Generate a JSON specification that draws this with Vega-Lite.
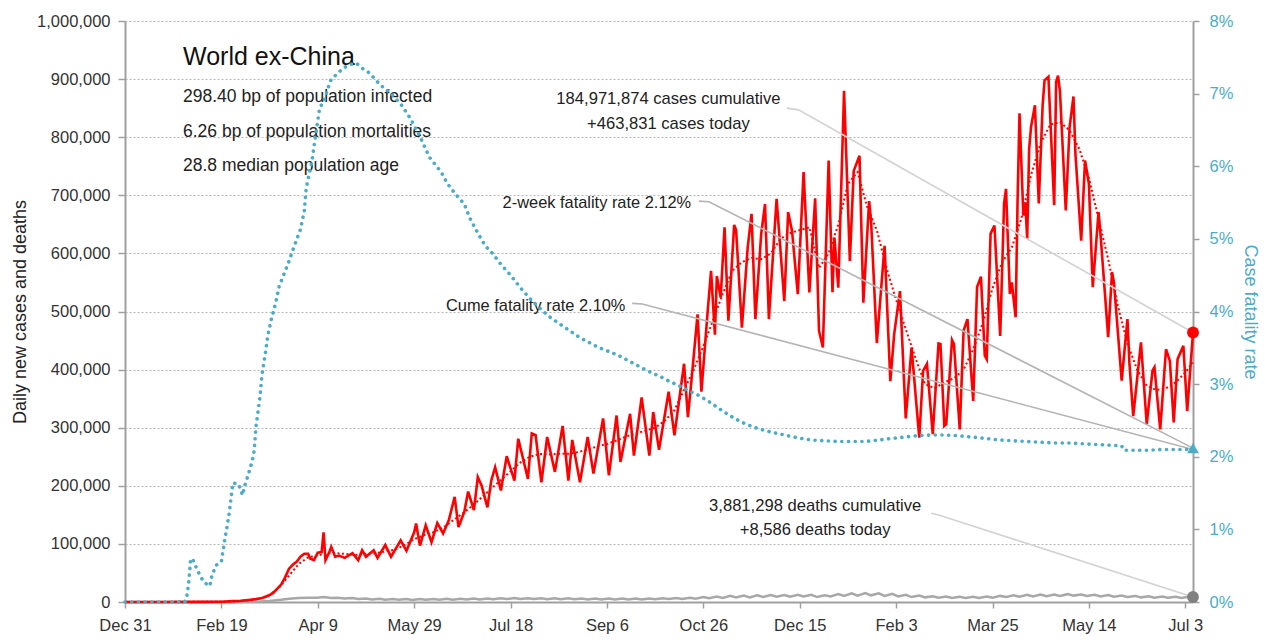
{
"$schema": "https://vega.github.io/schema/vega-lite/v6.json",
"width": 1068,
"height": 581,
"autosize": {"type": "none"},
"padding": {"left": 125, "top": 21, "right": 72, "bottom": 38},
"background": "white",
"config": {
  "view": {"stroke": null},
  "font": "Liberation Sans, Arial, sans-serif",
  "axis": {"labelFont": "Liberation Sans, Arial, sans-serif", "titleFont": "Liberation Sans, Arial, sans-serif", "labelFontSize": 16.5, "titleFontSize": 18, "titleFontWeight": "normal", "domainColor": "#a0a0a0", "domainWidth": 2, "tickColor": "#a0a0a0", "tickWidth": 1.5, "labelColor": "#333333", "titleColor": "#222222", "labelFlush": false, "labelOverlap": false}
},
"datasets": {
  "cases": [{"d":0,"v":0},{"d":20,"v":0},{"d":40,"v":200},{"d":50,"v":500},{"d":56,"v":1500},{"d":60,"v":2000},{"d":64,"v":3500},{"d":68,"v":5000},{"d":71,"v":7000},{"d":73,"v":9000},{"d":75,"v":12000},{"d":77,"v":16000},{"d":79,"v":23000},{"d":81,"v":30000},{"d":83,"v":42000},{"d":85,"v":57000},{"d":87,"v":64000},{"d":89,"v":69000},{"d":91,"v":78000},{"d":93,"v":83000},{"d":95,"v":83000},{"d":96,"v":75000},{"d":98,"v":72000},{"d":100,"v":85000},{"d":102,"v":86000},{"d":103,"v":120000},{"d":104,"v":72000},{"d":106,"v":86000},{"d":107,"v":95000},{"d":109,"v":78000},{"d":111,"v":80000},{"d":114,"v":76000},{"d":118,"v":84000},{"d":121,"v":72000},{"d":123,"v":89000},{"d":125,"v":78000},{"d":129,"v":89000},{"d":131,"v":76000},{"d":135,"v":98000},{"d":138,"v":78000},{"d":143,"v":106000},{"d":146,"v":88000},{"d":150,"v":120000},{"d":151,"v":135000},{"d":153,"v":97000},{"d":156,"v":132000},{"d":159,"v":103000},{"d":162,"v":136000},{"d":165,"v":118000},{"d":168,"v":141000},{"d":171,"v":181000},{"d":173,"v":129000},{"d":176,"v":155000},{"d":178,"v":190000},{"d":181,"v":158000},{"d":183,"v":215000},{"d":185,"v":200000},{"d":188,"v":163000},{"d":190,"v":209000},{"d":192,"v":232000},{"d":195,"v":192000},{"d":198,"v":251000},{"d":202,"v":209000},{"d":204,"v":281000},{"d":209,"v":212000},{"d":211,"v":290000},{"d":213,"v":287000},{"d":216,"v":206000},{"d":219,"v":284000},{"d":223,"v":224000},{"d":227,"v":303000},{"d":230,"v":209000},{"d":232,"v":279000},{"d":236,"v":206000},{"d":240,"v":284000},{"d":243,"v":221000},{"d":248,"v":316000},{"d":251,"v":218000},{"d":255,"v":321000},{"d":257,"v":241000},{"d":262,"v":324000},{"d":264,"v":252000},{"d":268,"v":352000},{"d":272,"v":252000},{"d":274,"v":327000},{"d":277,"v":262000},{"d":282,"v":362000},{"d":285,"v":287000},{"d":290,"v":410000},{"d":292,"v":318000},{"d":294,"v":387000},{"d":297,"v":495000},{"d":299,"v":362000},{"d":302,"v":490000},{"d":304,"v":570000},{"d":306,"v":460000},{"d":307,"v":561000},{"d":309,"v":524000},{"d":311,"v":645000},{"d":313,"v":484000},{"d":316,"v":649000},{"d":317,"v":640000},{"d":320,"v":472000},{"d":323,"v":610000},{"d":325,"v":668000},{"d":327,"v":487000},{"d":330,"v":633000},{"d":332,"v":685000},{"d":334,"v":487000},{"d":338,"v":694000},{"d":342,"v":518000},{"d":344,"v":671000},{"d":346,"v":639000},{"d":349,"v":530000},{"d":352,"v":740000},{"d":355,"v":533000},{"d":358,"v":695000},{"d":360,"v":467000},{"d":362,"v":438000},{"d":365,"v":760000},{"d":367,"v":533000},{"d":368,"v":627000},{"d":370,"v":541000},{"d":373,"v":880000},{"d":376,"v":587000},{"d":378,"v":742000},{"d":381,"v":768000},{"d":383,"v":515000},{"d":386,"v":690000},{"d":387,"v":656000},{"d":390,"v":446000},{"d":394,"v":613000},{"d":397,"v":380000},{"d":399,"v":461000},{"d":402,"v":535000},{"d":405,"v":316000},{"d":408,"v":438000},{"d":412,"v":283000},{"d":414,"v":398000},{"d":416,"v":410000},{"d":419,"v":289000},{"d":422,"v":445000},{"d":423,"v":444000},{"d":425,"v":303000},{"d":426,"v":306000},{"d":429,"v":451000},{"d":430,"v":444000},{"d":433,"v":297000},{"d":435,"v":467000},{"d":437,"v":487000},{"d":440,"v":346000},{"d":442,"v":542000},{"d":444,"v":560000},{"d":446,"v":424000},{"d":447,"v":418000},{"d":449,"v":634000},{"d":451,"v":648000},{"d":454,"v":458000},{"d":456,"v":686000},{"d":457,"v":711000},{"d":459,"v":530000},{"d":460,"v":550000},{"d":462,"v":490000},{"d":463,"v":691000},{"d":464,"v":841000},{"d":466,"v":665000},{"d":467,"v":688000},{"d":468,"v":625000},{"d":469,"v":780000},{"d":470,"v":818000},{"d":472,"v":855000},{"d":474,"v":686000},{"d":476,"v":855000},{"d":477,"v":898000},{"d":479,"v":904000},{"d":482,"v":683000},{"d":483,"v":895000},{"d":484,"v":906000},{"d":485,"v":878000},{"d":488,"v":674000},{"d":490,"v":818000},{"d":492,"v":870000},{"d":493,"v":772000},{"d":496,"v":622000},{"d":498,"v":760000},{"d":500,"v":720000},{"d":502,"v":542000},{"d":505,"v":671000},{"d":506,"v":634000},{"d":510,"v":456000},{"d":512,"v":568000},{"d":513,"v":550000},{"d":517,"v":381000},{"d":520,"v":487000},{"d":521,"v":412000},{"d":523,"v":320000},{"d":527,"v":447000},{"d":530,"v":306000},{"d":533,"v":398000},{"d":534,"v":404000},{"d":537,"v":297000},{"d":540,"v":435000},{"d":542,"v":415000},{"d":544,"v":309000},{"d":546,"v":418000},{"d":549,"v":441000},{"d":551,"v":329000},{"d":554,"v":463831}],
  "avg": [{"d":0,"v":0},{"d":55,"v":500},{"d":65,"v":3000},{"d":70,"v":6000},{"d":75,"v":12000},{"d":80,"v":25000},{"d":85,"v":45000},{"d":90,"v":65000},{"d":95,"v":77000},{"d":100,"v":80000},{"d":105,"v":84000},{"d":110,"v":84000},{"d":120,"v":81000},{"d":130,"v":84000},{"d":140,"v":90000},{"d":145,"v":98000},{"d":150,"v":108000},{"d":155,"v":115000},{"d":160,"v":120000},{"d":165,"v":128000},{"d":170,"v":140000},{"d":175,"v":152000},{"d":180,"v":165000},{"d":185,"v":180000},{"d":190,"v":195000},{"d":195,"v":210000},{"d":200,"v":225000},{"d":205,"v":240000},{"d":210,"v":250000},{"d":215,"v":255000},{"d":220,"v":254000},{"d":225,"v":255000},{"d":230,"v":255000},{"d":235,"v":258000},{"d":240,"v":262000},{"d":245,"v":268000},{"d":250,"v":272000},{"d":255,"v":278000},{"d":260,"v":285000},{"d":265,"v":290000},{"d":270,"v":295000},{"d":275,"v":300000},{"d":280,"v":312000},{"d":285,"v":330000},{"d":290,"v":365000},{"d":295,"v":400000},{"d":300,"v":440000},{"d":305,"v":485000},{"d":310,"v":530000},{"d":315,"v":570000},{"d":320,"v":585000},{"d":325,"v":592000},{"d":330,"v":590000},{"d":335,"v":600000},{"d":340,"v":625000},{"d":345,"v":635000},{"d":350,"v":640000},{"d":355,"v":645000},{"d":360,"v":575000},{"d":365,"v":600000},{"d":370,"v":650000},{"d":375,"v":720000},{"d":380,"v":740000},{"d":385,"v":680000},{"d":390,"v":640000},{"d":395,"v":575000},{"d":400,"v":520000},{"d":405,"v":470000},{"d":410,"v":420000},{"d":415,"v":375000},{"d":420,"v":368000},{"d":425,"v":378000},{"d":430,"v":385000},{"d":435,"v":400000},{"d":440,"v":435000},{"d":445,"v":480000},{"d":450,"v":540000},{"d":455,"v":585000},{"d":460,"v":610000},{"d":465,"v":660000},{"d":470,"v":735000},{"d":475,"v":790000},{"d":480,"v":822000},{"d":485,"v":826000},{"d":490,"v":812000},{"d":495,"v":780000},{"d":500,"v":730000},{"d":505,"v":660000},{"d":510,"v":590000},{"d":515,"v":510000},{"d":520,"v":445000},{"d":525,"v":400000},{"d":530,"v":372000},{"d":535,"v":365000},{"d":540,"v":368000},{"d":545,"v":378000},{"d":550,"v":395000},{"d":554,"v":412000}],
  "deaths": [{"d":0,"v":0},{"d":50,"v":50},{"d":60,"v":100},{"d":65,"v":300},{"d":70,"v":700},{"d":75,"v":1800},{"d":80,"v":3500},{"d":85,"v":5500},{"d":90,"v":7000},{"d":95,"v":7500},{"d":100,"v":7200},{"d":103,"v":8500},{"d":107,"v":7000},{"d":110,"v":7500},{"d":114,"v":6000},{"d":118,"v":7000},{"d":121,"v":5000},{"d":125,"v":6000},{"d":128,"v":4500},{"d":132,"v":5500},{"d":135,"v":4000},{"d":139,"v":5200},{"d":142,"v":3800},{"d":146,"v":5000},{"d":149,"v":3600},{"d":153,"v":5000},{"d":156,"v":3800},{"d":160,"v":5200},{"d":163,"v":3800},{"d":167,"v":5500},{"d":170,"v":4000},{"d":174,"v":5600},{"d":177,"v":4200},{"d":181,"v":6000},{"d":184,"v":4500},{"d":188,"v":6200},{"d":191,"v":4800},{"d":195,"v":6500},{"d":198,"v":5000},{"d":202,"v":6800},{"d":205,"v":5000},{"d":209,"v":6600},{"d":212,"v":5000},{"d":216,"v":6500},{"d":219,"v":4800},{"d":223,"v":6400},{"d":226,"v":4800},{"d":230,"v":6300},{"d":233,"v":4600},{"d":237,"v":6200},{"d":240,"v":4500},{"d":244,"v":6000},{"d":247,"v":4400},{"d":251,"v":5800},{"d":254,"v":4500},{"d":258,"v":5800},{"d":261,"v":4500},{"d":265,"v":6000},{"d":268,"v":4500},{"d":272,"v":6000},{"d":275,"v":4600},{"d":279,"v":6500},{"d":282,"v":5000},{"d":286,"v":7000},{"d":289,"v":5400},{"d":293,"v":7500},{"d":296,"v":5800},{"d":300,"v":8500},{"d":303,"v":6500},{"d":307,"v":9500},{"d":310,"v":7000},{"d":314,"v":10500},{"d":317,"v":7800},{"d":321,"v":11000},{"d":324,"v":8000},{"d":328,"v":11500},{"d":331,"v":8500},{"d":335,"v":12000},{"d":338,"v":9000},{"d":342,"v":12000},{"d":345,"v":9000},{"d":349,"v":12500},{"d":352,"v":9500},{"d":356,"v":12500},{"d":359,"v":8500},{"d":363,"v":11500},{"d":366,"v":9500},{"d":370,"v":13500},{"d":373,"v":10500},{"d":377,"v":15000},{"d":380,"v":11000},{"d":384,"v":15500},{"d":387,"v":11500},{"d":391,"v":15000},{"d":394,"v":10500},{"d":398,"v":14000},{"d":401,"v":9500},{"d":405,"v":12500},{"d":408,"v":8500},{"d":412,"v":11000},{"d":415,"v":8000},{"d":419,"v":10000},{"d":422,"v":7500},{"d":426,"v":9500},{"d":429,"v":7000},{"d":433,"v":9000},{"d":436,"v":7000},{"d":440,"v":9000},{"d":443,"v":7000},{"d":447,"v":9500},{"d":450,"v":7500},{"d":454,"v":10500},{"d":457,"v":8500},{"d":461,"v":11500},{"d":464,"v":9000},{"d":468,"v":12500},{"d":471,"v":9500},{"d":475,"v":13000},{"d":478,"v":10000},{"d":482,"v":13000},{"d":485,"v":10500},{"d":489,"v":13500},{"d":492,"v":11000},{"d":496,"v":13000},{"d":499,"v":10500},{"d":503,"v":12500},{"d":506,"v":9500},{"d":510,"v":12000},{"d":513,"v":9000},{"d":517,"v":11000},{"d":520,"v":8500},{"d":524,"v":10500},{"d":527,"v":8000},{"d":531,"v":10000},{"d":534,"v":7500},{"d":538,"v":9500},{"d":541,"v":7500},{"d":545,"v":9000},{"d":548,"v":7000},{"d":551,"v":8500},{"d":554,"v":8586}],
  "rate": [{"d":0,"r":0},{"d":4,"r":0},{"d":8,"r":0},{"d":12,"r":0},{"d":16,"r":0},{"d":20,"r":0},{"d":24,"r":0},{"d":28,"r":0},{"d":31,"r":0},{"d":32,"r":0.0007},{"d":33,"r":0.0025},{"d":34,"r":0.0058},{"d":35,"r":0.006},{"d":36,"r":0.0053},{"d":39,"r":0.0036},{"d":41,"r":0.0027},{"d":44,"r":0.0022},{"d":45,"r":0.0035},{"d":47,"r":0.005},{"d":50,"r":0.0056},{"d":52,"r":0.009},{"d":53,"r":0.0105},{"d":54,"r":0.0122},{"d":56,"r":0.0164},{"d":59,"r":0.0162},{"d":61,"r":0.0147},{"d":62,"r":0.0159},{"d":64,"r":0.0176},{"d":66,"r":0.0194},{"d":67,"r":0.0208},{"d":68,"r":0.0243},{"d":70,"r":0.0282},{"d":71,"r":0.0312},{"d":73,"r":0.0346},{"d":74,"r":0.0366},{"d":76,"r":0.039},{"d":78,"r":0.041},{"d":80,"r":0.0435},{"d":83,"r":0.0455},{"d":85,"r":0.0469},{"d":87,"r":0.0484},{"d":89,"r":0.0499},{"d":91,"r":0.0513},{"d":93,"r":0.0538},{"d":94,"r":0.057},{"d":97,"r":0.0607},{"d":98,"r":0.0627},{"d":99,"r":0.0645},{"d":101,"r":0.0681},{"d":103,"r":0.0688},{"d":105,"r":0.0705},{"d":107,"r":0.072},{"d":110,"r":0.0727},{"d":113,"r":0.0735},{"d":117,"r":0.074},{"d":120,"r":0.0742},{"d":123,"r":0.0735},{"d":126,"r":0.073},{"d":129,"r":0.0722},{"d":132,"r":0.0713},{"d":138,"r":0.07},{"d":143,"r":0.0686},{"d":148,"r":0.0666},{"d":153,"r":0.0641},{"d":158,"r":0.0612},{"d":164,"r":0.0592},{"d":167,"r":0.0577},{"d":171,"r":0.0563},{"d":176,"r":0.0548},{"d":179,"r":0.0528},{"d":183,"r":0.0508},{"d":187,"r":0.049},{"d":190,"r":0.0482},{"d":195,"r":0.0465},{"d":200,"r":0.045},{"d":205,"r":0.0433},{"d":210,"r":0.0418},{"d":215,"r":0.0405},{"d":220,"r":0.0393},{"d":226,"r":0.0382},{"d":231,"r":0.0373},{"d":236,"r":0.0364},{"d":241,"r":0.0357},{"d":246,"r":0.035},{"d":252,"r":0.0344},{"d":257,"r":0.0338},{"d":262,"r":0.0331},{"d":267,"r":0.0324},{"d":272,"r":0.0317},{"d":278,"r":0.031},{"d":283,"r":0.0303},{"d":288,"r":0.0297},{"d":293,"r":0.029},{"d":298,"r":0.0284},{"d":304,"r":0.0274},{"d":310,"r":0.0263},{"d":316,"r":0.0253},{"d":322,"r":0.0245},{"d":328,"r":0.0239},{"d":335,"r":0.0234},{"d":342,"r":0.023},{"d":349,"r":0.0226},{"d":356,"r":0.0223},{"d":363,"r":0.0222},{"d":370,"r":0.0221},{"d":377,"r":0.0221},{"d":384,"r":0.0221},{"d":391,"r":0.0223},{"d":397,"r":0.0225},{"d":404,"r":0.0227},{"d":411,"r":0.0229},{"d":418,"r":0.023},{"d":425,"r":0.023},{"d":432,"r":0.0229},{"d":440,"r":0.0227},{"d":447,"r":0.0225},{"d":454,"r":0.0223},{"d":461,"r":0.0222},{"d":468,"r":0.0221},{"d":475,"r":0.022},{"d":482,"r":0.0219},{"d":489,"r":0.0219},{"d":496,"r":0.0218},{"d":503,"r":0.0217},{"d":510,"r":0.0216},{"d":517,"r":0.0215},{"d":518,"r":0.0209},{"d":524,"r":0.0209},{"d":531,"r":0.0209},{"d":538,"r":0.021},{"d":545,"r":0.021},{"d":554,"r":0.021}],
  "leaders": [{"id":"cases","o":1,"d":343.2,"v":850000},{"id":"cases","o":2,"d":349.4,"v":847000},{"id":"cases","o":3,"d":554,"v":463831},{"id":"twoweek","o":1,"d":297.7,"v":690000},{"id":"twoweek","o":2,"d":302.9,"v":689000},{"id":"twoweek","o":3,"d":554,"v":264900},{"id":"cume","o":1,"d":263.1,"v":514000},{"id":"cume","o":2,"d":268.3,"v":513000},{"id":"cume","o":3,"d":554,"v":262400},{"id":"deaths","o":1,"d":418.2,"v":152600},{"id":"deaths","o":2,"d":422.1,"v":149700},{"id":"deaths","o":3,"d":554,"v":8586}],
  "ends": [{"k":"cases","d":554,"v":463831},{"k":"deaths","d":554,"v":8586}],
  "notes": [{"k":"title","d":30.1,"v":924000,"t":"World ex-China"},{"k":"sub","d":30.1,"v":860500,"t":"298.40 bp of population infected"},{"k":"sub","d":30.1,"v":801000,"t":"6.26 bp of population mortalities"},{"k":"sub","d":30.1,"v":742000,"t":"28.8 median population age"},{"k":"center","d":281.9,"v":857000,"t":"184,971,874 cases cumulative"},{"k":"center","d":281.9,"v":814000,"t":"+463,831 cases today"},{"k":"center","d":358,"v":156600,"t":"3,881,298 deaths cumulative"},{"k":"center","d":358,"v":115300,"t":"+8,586 deaths today"},{"k":"right","d":293.7,"v":677600,"t":"2-week fatality rate 2.12%"},{"k":"right","d":259.6,"v":501000,"t":"Cume fatality rate 2.10%"}]
},
"encoding": {
  "x": {"field": "d", "type": "quantitative", "scale": {"domain": [0, 554], "nice": false, "zero": false},
        "axis": {"values": [0,50,100,150,200,250,300,350,400,450,500,550], "labelExpr": "utcFormat(datum.value * 86400000 + 1577750400000, '%b %-d')", "grid": false, "title": null, "tickSize": 6, "labelPadding": 9}}
},
"layer": [
  {
    "encoding": {
      "y": {"field": "v", "type": "quantitative", "scale": {"domain": [0, 1000000], "nice": false, "zero": true},
            "axis": {"orient": "left", "values": [0,100000,200000,300000,400000,500000,600000,700000,800000,900000,1000000], "format": ",.0f", "grid": true, "gridDash": [2,2], "gridColor": "#b8b8b8", "gridWidth": 1.2, "title": "Daily new cases and deaths", "titlePadding": 7, "tickSize": 7, "labelPadding": 8}}
    },
    "layer": [
      {"data": {"name": "deaths"}, "mark": {"type": "line", "color": "#a8a8a8", "strokeWidth": 2.5}},
      {"data": {"name": "avg"}, "mark": {"type": "line", "color": "#ff0000", "strokeWidth": 2, "strokeDash": [2, 2.5]}},
      {"data": {"name": "cases"}, "mark": {"type": "line", "color": "#ff0000", "strokeWidth": 2.6}},
      {"data": {"name": "leaders"}, "mark": {"type": "line", "strokeWidth": 1.6},
       "encoding": {"color": {"field": "id", "type": "nominal", "scale": {"domain": ["cases","twoweek","cume","deaths"], "range": ["#d2d2d2","#b4b4b4","#b4b4b4","#d2d2d2"]}, "legend": null},
                    "order": {"field": "o", "type": "quantitative"}}},
      {"data": {"name": "ends"}, "transform": [{"filter": "datum.k === 'cases'"}], "mark": {"type": "point", "filled": true, "size": 140, "color": "#ff0000", "opacity": 1}},
      {"data": {"name": "ends"}, "transform": [{"filter": "datum.k === 'deaths'"}], "mark": {"type": "point", "filled": true, "size": 140, "color": "#808080", "opacity": 1}},
      {"data": {"name": "notes"}, "transform": [{"filter": "datum.k === 'title'"}], "mark": {"type": "text", "align": "left", "baseline": "alphabetic", "fontSize": 25, "color": "#111111"}, "encoding": {"text": {"field": "t", "type": "nominal"}}},
      {"data": {"name": "notes"}, "transform": [{"filter": "datum.k === 'sub'"}], "mark": {"type": "text", "align": "left", "baseline": "alphabetic", "fontSize": 17.5, "color": "#222222"}, "encoding": {"text": {"field": "t", "type": "nominal"}}},
      {"data": {"name": "notes"}, "transform": [{"filter": "datum.k === 'center'"}], "mark": {"type": "text", "align": "center", "baseline": "alphabetic", "fontSize": 16.6, "color": "#222222"}, "encoding": {"text": {"field": "t", "type": "nominal"}}},
      {"data": {"name": "notes"}, "transform": [{"filter": "datum.k === 'right'"}], "mark": {"type": "text", "align": "right", "baseline": "alphabetic", "fontSize": 16.4, "color": "#222222"}, "encoding": {"text": {"field": "t", "type": "nominal"}}}
    ]
  },
  {
    "encoding": {
      "y": {"field": "r", "type": "quantitative", "scale": {"domain": [0, 0.08], "nice": false, "zero": true},
            "axis": {"orient": "right", "values": [0,0.01,0.02,0.03,0.04,0.05,0.06,0.07,0.08], "format": ".0%", "grid": false, "labelColor": "#4bacc6", "title": "Case fatality rate", "titleColor": "#4bacc6", "titlePadding": 8, "tickSize": 6, "labelPadding": 10}}
    },
    "layer": [
      {"data": {"name": "rate"}, "mark": {"type": "line", "color": "#4bacc6", "strokeWidth": 3.6, "strokeDash": [0.1, 6.6], "strokeCap": "round"}},
      {"data": {"values": [{"d": 554, "r": 0.0212}]}, "mark": {"type": "point", "shape": "triangle-up", "filled": true, "size": 140, "color": "#4bacc6", "opacity": 1}}
    ]
  }
],
"resolve": {"scale": {"y": "independent"}}
}
